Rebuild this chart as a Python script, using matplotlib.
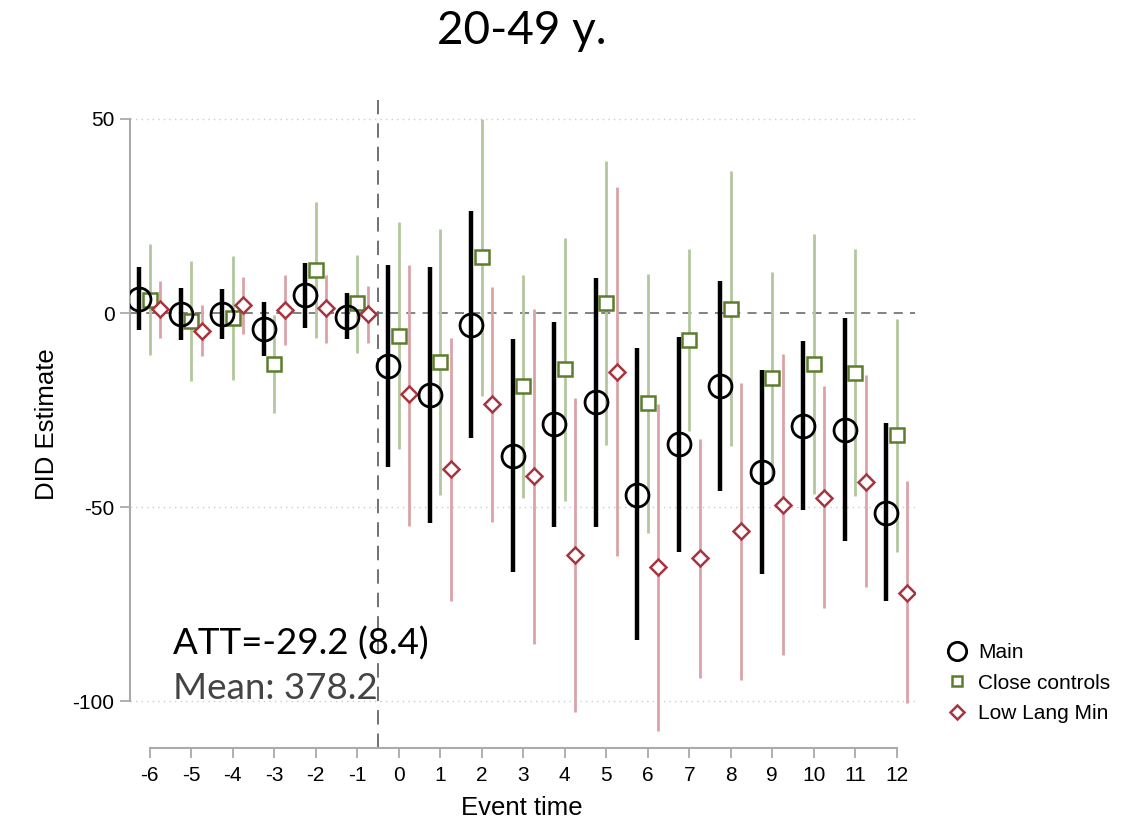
import matplotlib
matplotlib.use("Agg")
import matplotlib.pyplot as plt
import numpy as np

plt.rcParams["axes.unicode_minus"] = False

event_time = [-6, -5, -4, -3, -2, -1, 0, 1, 2, 3, 4, 5, 6, 7, 8, 9, 10, 11, 12]

main_est = [3.6, -0.1, -0.3, -4.1, 4.7, -0.9, -13.6, -21.1, -3.0, -36.7, -28.5, -23.0, -46.8, -33.7, -18.8, -40.9, -29.1, -30.0, -51.5]
main_lo = [-4.4, -7.0, -6.7, -11.0, -3.9, -6.7, -39.5, -54.1, -32.1, -66.7, -55.2, -55.0, -84.2, -61.4, -45.7, -67.2, -50.8, -58.6, -74.2]
main_hi = [12.0, 6.6, 6.2, 2.8, 12.8, 5.1, 12.5, 11.8, 26.3, -6.7, -2.2, 9.0, -9.1, -6.1, 8.2, -14.6, -7.1, -1.3, -28.4]

close_est = [3.4, -2.0, -1.3, -13.2, 11.1, 2.5, -5.9, -12.7, 14.4, -18.8, -14.5, 2.6, -23.1, -7.0, 1.0, -16.6, -13.2, -15.3, -31.4]
close_lo = [-10.9, -17.5, -17.3, -25.8, -6.5, -10.2, -35.1, -46.8, -21.4, -47.6, -48.3, -33.9, -56.7, -30.4, -34.3, -43.3, -46.6, -47.2, -61.4]
close_hi = [17.8, 13.5, 14.8, -0.5, 28.6, 15.0, 23.4, 21.7, 50.1, 9.9, 19.3, 39.2, 10.2, 16.5, 36.6, 10.5, 20.4, 16.5, -1.6]

low_est = [1.0, -4.6, 2.1, 0.9, 1.2, -0.3, -20.9, -40.1, -23.3, -42.0, -62.3, -15.2, -65.5, -63.1, -56.2, -49.4, -47.5, -43.5, -72.0]
low_lo = [-6.3, -11.0, -5.3, -8.2, -7.6, -7.6, -54.8, -74.2, -53.7, -85.1, -102.6, -62.5, -107.5, -94.0, -94.6, -88.1, -75.9, -70.6, -100.4]
low_hi = [8.3, 2.0, 9.4, 9.9, 9.9, 7.1, 12.5, -6.3, 6.8, 1.0, -21.8, 32.5, -23.5, -32.3, -17.9, -10.4, -18.8, -16.0, -43.3]

series_labels = ["Main", "Close controls", "Low Lang Min"]
title_text = "20-49 y."
att_text = "ATT=-29.2 (8.4)"
mean_text = "Mean: 378.2"
y_ticks = [50, 0, -50, -100]

fig = plt.figure(figsize=(11.39, 8.25), dpi=100)
ax = fig.add_axes([0.114, 0.0933, 0.689, 0.786])

x = np.array(event_time, dtype=float)

green_dark = "#5b7d2c"
green_light = "#b3c69e"
red_dark = "#a8343f"
red_light = "#dba3a8"

# reference lines
ax.axhline(0, color="#777777", lw=1.3, ls=(0, (5, 4)), zorder=1)
ax.axvline(-0.5, color="#666666", lw=1.3, ls=(0, (8, 5)), zorder=1)
for yv in [50, -50, -100]:
    ax.axhline(yv, color="#cccccc", lw=1.0, ls=(0, (1, 3)), zorder=0)

# CIs
ax.vlines(x, close_lo, close_hi, color=green_light, lw=2.0, zorder=2)
ax.vlines(x + 0.25, low_lo, low_hi, color=red_light, lw=2.0, zorder=2)
ax.vlines(x - 0.25, main_lo, main_hi, color="black", lw=3.2, zorder=3)

h1, = ax.plot(x - 0.25, main_est, ls="none", marker="o", ms=16.5, mfc="none", mec="black", mew=2.0, zorder=5, label=series_labels[0])
h2, = ax.plot(x, close_est, ls="none", marker="s", ms=9.5, mfc="white", mec=green_dark, mew=1.8, zorder=4, label=series_labels[1])
h3, = ax.plot(x + 0.25, low_est, ls="none", marker="D", ms=8.5, mfc="white", mec=red_dark, mew=1.8, zorder=4, label=series_labels[2])

ax.set_xlim(-6.48, 12.43)
ax.set_ylim(-112, 55)
ax.set_xticks(event_time)
ax.set_xticklabels([str(v) for v in event_time])
ax.set_yticks(y_ticks)
ax.set_yticklabels([str(v) for v in y_ticks])

for s in ["top", "right"]:
    ax.spines[s].set_visible(False)
ax.spines["left"].set_bounds(-100, 50)
ax.spines["bottom"].set_bounds(-6, 12)
for s in ["left", "bottom"]:
    ax.spines[s].set_color("#aaaaaa")
    ax.spines[s].set_linewidth(1.5)
ax.tick_params(axis="both", colors="#aaaaaa", length=7, width=1.3, labelcolor="black", labelsize=15)
ax.tick_params(axis="x", pad=6)
ax.tick_params(axis="y", pad=4)
for lab in ax.get_xticklabels() + ax.get_yticklabels():
    lab.set_family("Liberation Sans")

ax.set_xlabel("Event time", fontsize=18.5, family="Liberation Sans", labelpad=8)
ax.set_ylabel("DID Estimate", fontsize=18.5, family="Liberation Sans", labelpad=10)

ax.set_title(title_text, fontsize=33, family="Lato", pad=40)

ax.text(-5.45, -85, att_text, fontsize=26.5, family="Lato", color="black", ha="left", va="center", zorder=6)
ax.text(-5.45, -96.6, mean_text, fontsize=26.5, family="Lato", fontweight="normal", color="#444444", ha="left", va="center", zorder=6)

fig.legend(handles=[h1, h2, h3], labels=series_labels, loc="upper left",
           bbox_to_anchor=(0.815, 0.243), frameon=False,
           prop={"family": "Liberation Sans", "size": 15}, handlelength=1.0,
           handletextpad=0.5, labelspacing=0.55, markerscale=0.8)

fig.savefig("out.png", dpi=100, facecolor="white")
